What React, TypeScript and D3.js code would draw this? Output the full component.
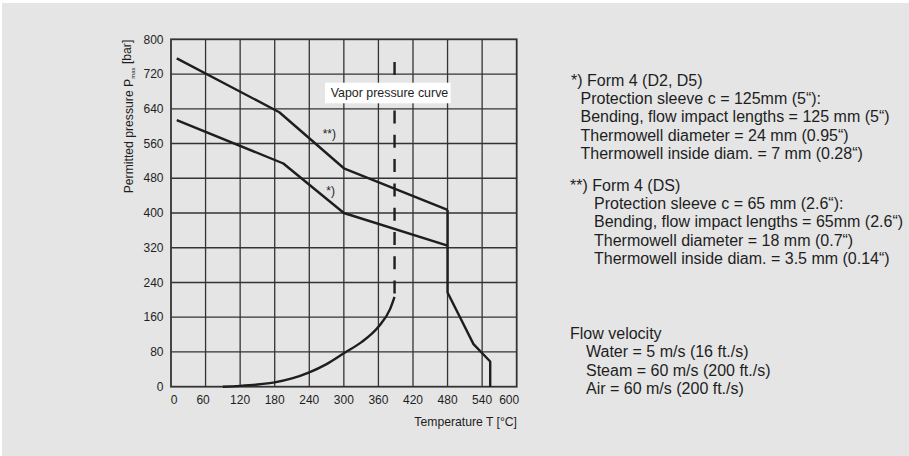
import React from "react";
import * as d3 from "d3";

const xTicks = [0, 60, 120, 180, 240, 300, 360, 420, 480, 540, 600];
const yTicks = [0, 80, 160, 240, 320, 400, 480, 560, 640, 720, 800];

// **) Form 4 (DS)
const formDS_T = [10, 188, 300, 480];
const formDS_P = [756, 632, 503, 407];
// *) Form 4 (D2, D5)
const formD2_T = [10, 195, 300, 480];
const formD2_P = [614, 514, 400, 325];
// common high-temperature limit
const tail_T = [480, 480, 525, 554, 554];
const tail_P = [407, 217, 98, 58, 0];
// vapor pressure curve
const vapor_T = [90, 120, 150, 180, 210, 240, 270, 300, 330, 360, 380, 388];
const vapor_P = [0, 2, 5, 10, 19, 33, 52, 77, 102, 138, 178, 207];
const vaporLimitT = 388;
const vaporTopP = 748;

const noteA = [
  "*) Form 4 (D2, D5)",
  "Protection sleeve c = 125mm (5“):",
  "Bending, flow impact lengths = 125 mm (5“)",
  "Thermowell diameter = 24 mm (0.95“)",
  "Thermowell inside diam. = 7 mm (0.28“)",
];
const noteB = [
  "**) Form 4 (DS)",
  "Protection sleeve c = 65 mm (2.6“):",
  "Bending, flow impact lengths = 65mm (2.6“)",
  "Thermowell diameter = 18 mm (0.7“)",
  "Thermowell inside diam. = 3.5 mm (0.14“)",
];
const noteC = [
  "Flow velocity",
  "Water = 5 m/s (16 ft./s)",
  "Steam = 60 m/s (200 ft./s)",
  "Air = 60 m/s (200 ft./s)",
];

const FONT = "'Liberation Sans', Arial, Helvetica, sans-serif";
const INK = "#1e1e1e";

export default function App() {
  const W = 909,
    H = 456;
  const x = d3.scaleLinear().domain([0, 600]).range([171, 516.7]);
  const y = d3.scaleLinear().domain([0, 800]).range([386.7, 39.3]);

  const line = d3
    .line<[number, number]>()
    .x((d) => x(d[0]))
    .y((d) => y(d[1]));
  const curve = d3
    .line<[number, number]>()
    .x((d) => x(d[0]))
    .y((d) => y(d[1]))
    .curve(d3.curveMonotoneX);

  const zip = (a: number[], b: number[]) =>
    a.map((v, i) => [v, b[i]] as [number, number]);

  const lineH = 18.3;

  const block = (
    lines: string[],
    x0: number,
    xi: number,
    y0: number,
    key: string
  ) =>
    lines.map((t, i) => (
      <text
        key={key + i}
        x={i === 0 ? x0 : xi}
        y={y0 + i * lineH}
        dy="0.35em"
        fontSize={16}
        fill={INK}
      >
        {t}
      </text>
    ));

  return (
    <svg
      width={W}
      height={H}
      style={{ position: "absolute", left: 0, top: 0 }}
      fontFamily={FONT}
    >
      <rect x={0} y={0} width={W} height={H} fill="#ffffff" />
      <rect x={2} y={3} width={W - 2} height={H - 3} fill="#e5e5e5" />

      {/* grid */}
      {xTicks.slice(1, -1).map((t) => (
        <line
          key={"gx" + t}
          x1={x(t)}
          x2={x(t)}
          y1={y(0)}
          y2={y(800)}
          stroke="#333"
          strokeWidth={1.3}
        />
      ))}
      {yTicks.slice(1, -1).map((t) => (
        <line
          key={"gy" + t}
          x1={x(0)}
          x2={x(600)}
          y1={y(t)}
          y2={y(t)}
          stroke="#333"
          strokeWidth={1.3}
        />
      ))}
      <rect
        x={x(0)}
        y={y(800)}
        width={x(600) - x(0)}
        height={y(0) - y(800)}
        fill="none"
        stroke="#333"
        strokeWidth={1.8}
      />

      {/* tick labels */}
      {yTicks.map((t) => (
        <text
          key={"ty" + t}
          x={163.5}
          y={y(t)}
          dy="0.35em"
          textAnchor="end"
          fontSize={12}
          fill={INK}
        >
          {t}
        </text>
      ))}
      {xTicks.map((t, i) => (
        <text
          key={"tx" + t}
          x={x(t) + (i === 0 ? 3 : i === 1 ? -2.5 : i === 10 ? -7.5 : 0)}
          y={400}
          dy="0.35em"
          textAnchor="middle"
          fontSize={12}
          fill={INK}
        >
          {t}
        </text>
      ))}

      {/* axis titles */}
      <text
        transform="translate(129,116.5) rotate(-90)"
        textAnchor="middle"
        dy="0.35em"
        fontSize={12.2}
        fill={INK}
      >
        Permitted pressure P
        <tspan fontSize={6} dy="0.3em">
          max
        </tspan>
        <tspan dy="-0.3em"> [bar]</tspan>
      </text>
      <text
        x={517}
        y={422}
        dy="0.35em"
        textAnchor="end"
        fontSize={12.2}
        fill={INK}
      >
        Temperature T [°C]
      </text>

      {/* vapor pressure curve */}
      <path
        d={curve(zip(vapor_T, vapor_P)) || ""}
        fill="none"
        stroke={INK}
        strokeWidth={2.4}
      />
      <line
        x1={x(vaporLimitT)}
        x2={x(vaporLimitT)}
        y1={y(vaporTopP)}
        y2={y(vapor_P[vapor_P.length - 1])}
        stroke={INK}
        strokeWidth={2.4}
        strokeDasharray="13 11.3"
      />

      {/* pressure limit curves */}
      <path
        d={line(zip(formDS_T, formDS_P)) || ""}
        fill="none"
        stroke={INK}
        strokeWidth={2.4}
        strokeLinejoin="round"
      />
      <path
        d={line(zip(formD2_T, formD2_P)) || ""}
        fill="none"
        stroke={INK}
        strokeWidth={2.4}
        strokeLinejoin="round"
      />
      <path
        d={line(zip(tail_T, tail_P)) || ""}
        fill="none"
        stroke={INK}
        strokeWidth={2.4}
        strokeLinejoin="round"
      />

      {/* annotations */}
      <rect x={325} y={82.7} width={125.7} height={20.6} fill="#ffffff" />
      <text x={330.7} y={93} dy="0.35em" fontSize={12.4} fill={INK}>
        Vapor pressure curve
      </text>
      <text
        x={329.3}
        y={133.3}
        dy="0.35em"
        textAnchor="middle"
        fontSize={12}
        fill={INK}
      >
        **)
      </text>
      <text
        x={330.7}
        y={191}
        dy="0.35em"
        textAnchor="middle"
        fontSize={12}
        fill={INK}
      >
        *)
      </text>

      {/* notes */}
      {block(noteA, 571, 580.5, 80, "a")}
      {block(noteB, 570, 594, 185, "b")}
      {block(noteC, 570, 586, 333.3, "c")}
    </svg>
  );
}
